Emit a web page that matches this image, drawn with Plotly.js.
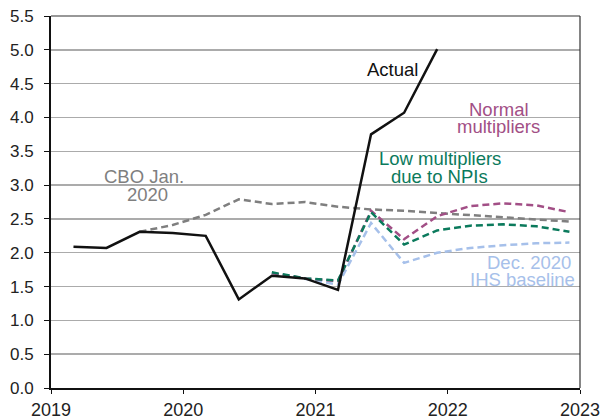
<!DOCTYPE html>
<html><head><meta charset="utf-8">
<script src="https://cdn.plot.ly/plotly-3.0.1.min.js"></script>
<style>html,body{margin:0;padding:0;background:#fff}#chart{width:601px;height:417px}</style>
</head><body><div id="chart"></div>
<script>
const actualX = [2019.17, 2019.42, 2019.67, 2019.92, 2020.17, 2020.42, 2020.67, 2020.92, 2021.17, 2021.42, 2021.67, 2021.92];
const actualY = [2.09, 2.07, 2.31, 2.29, 2.25, 1.31, 1.66, 1.62, 1.45, 3.75, 4.07, 5.01];
const cboX = [2019.67, 2019.92, 2020.17, 2020.42, 2020.67, 2020.92, 2021.17, 2021.42, 2021.67, 2021.92, 2022.17, 2022.42, 2022.67, 2022.92];
const cboY = [2.31, 2.41, 2.56, 2.79, 2.72, 2.75, 2.68, 2.64, 2.62, 2.59, 2.56, 2.53, 2.49, 2.46];
const fcX = [2020.67, 2020.92, 2021.17, 2021.42, 2021.67, 2021.92, 2022.17, 2022.42, 2022.67, 2022.92];
const normalY = [1.70, 1.62, 1.58, 2.62, 2.20, 2.54, 2.69, 2.73, 2.70, 2.60];
const lowY = [1.71, 1.62, 1.59, 2.60, 2.12, 2.33, 2.40, 2.42, 2.39, 2.31];
const ihsY = [1.70, 1.61, 1.53, 2.44, 1.85, 2.00, 2.07, 2.11, 2.14, 2.15];
const yTicks = [0, 0.5, 1, 1.5, 2, 2.5, 3, 3.5, 4, 4.5, 5, 5.5];
const yTickText = ['0.0','0.5','1.0','1.5','2.0','2.5','3.0','3.5','4.0','4.5','5.0','5.5'];
const xTicks = [2019, 2020, 2021, 2022, 2023];
const xTickText = ['2019','2020','2021','2022','2023'];

const C_GRAY = '#7f7f7f', C_PURPLE = '#a24f86', C_GREEN = '#0b7a5c', C_BLUE = '#a6c0ea';
const dash = '7px,4px';
const traces = [
  {x: cboX, y: cboY, mode: 'lines', line: {color: C_GRAY, width: 2.5, dash: dash}},
  {x: fcX, y: ihsY, mode: 'lines', line: {color: C_BLUE, width: 2.5, dash: dash}},
  {x: fcX, y: normalY, mode: 'lines', line: {color: C_PURPLE, width: 2.5, dash: dash}},
  {x: fcX, y: lowY, mode: 'lines', line: {color: C_GREEN, width: 2.5, dash: dash}},
  {x: actualX, y: actualY, mode: 'lines', line: {color: '#111', width: 2.5}}
];
const F = 'Arial, "Liberation Sans", Helvetica, sans-serif';
function ann(text, x, y, color, xanchor) {
  return {text: text, x: x, y: y, xref: 'x', yref: 'y', showarrow: false, borderpad: 0,
    xanchor: xanchor || 'center', yanchor: 'middle', font: {family: F, size: 18.5, color: color}};
}
const layout = {
  width: 601, height: 417,
  margin: {l: 51, r: 21, t: 16, b: 29},
  paper_bgcolor: '#fff', plot_bgcolor: '#fff',
  showlegend: false,
  font: {family: F, size: 17, color: '#222'},
  xaxis: {range: [2019, 2023], tickvals: xTicks, ticktext: xTickText, showgrid: false,
    zeroline: false, showline: true, linecolor: '#111', linewidth: 2,
    ticks: 'outside', ticklen: 4, tickcolor: '#111', tickwidth: 1, tickfont: {size: 18}},
  yaxis: {range: [0, 5.5], tickvals: yTicks, ticktext: yTickText, showgrid: true,
    gridcolor: '#ababab', gridwidth: 1.5, zeroline: false, showline: true, linecolor: '#111', linewidth: 2,
    ticks: 'outside', ticklen: 5, tickcolor: '#111', tickwidth: 1, tickfont: {size: 17},
    ticklabelstandoff: 7},
  shapes: [
    {type: 'line', xref: 'paper', yref: 'paper', x0: 0, x1: 1, y0: 1, y1: 1, line: {color: '#333', width: 1.2}},
    {type: 'line', xref: 'paper', yref: 'paper', x0: 1, x1: 1, y0: 0, y1: 1, line: {color: '#333', width: 1.2}}
  ],
  annotations: [
    ann('Actual', 2021.58, 4.71, '#111'),
    ann('Normal', 2022.39, 4.12, C_PURPLE),
    ann('multipliers', 2022.38, 3.86, C_PURPLE),
    ann('Low multipliers', 2021.94, 3.39, C_GREEN),
    ann('due to NPIs', 2021.94, 3.13, C_GREEN),
    ann('CBO Jan.', 2019.70, 3.12, C_GRAY),
    ann('2020', 2019.73, 2.86, C_GRAY),
    ann('Dec. 2020', 2022.94, 1.86, C_BLUE, 'right'),
    ann('IHS baseline', 2022.97, 1.60, C_BLUE, 'right')
  ]
};
Plotly.newPlot('chart', traces, layout, {displayModeBar: false, staticPlot: true});
</script></body></html>
